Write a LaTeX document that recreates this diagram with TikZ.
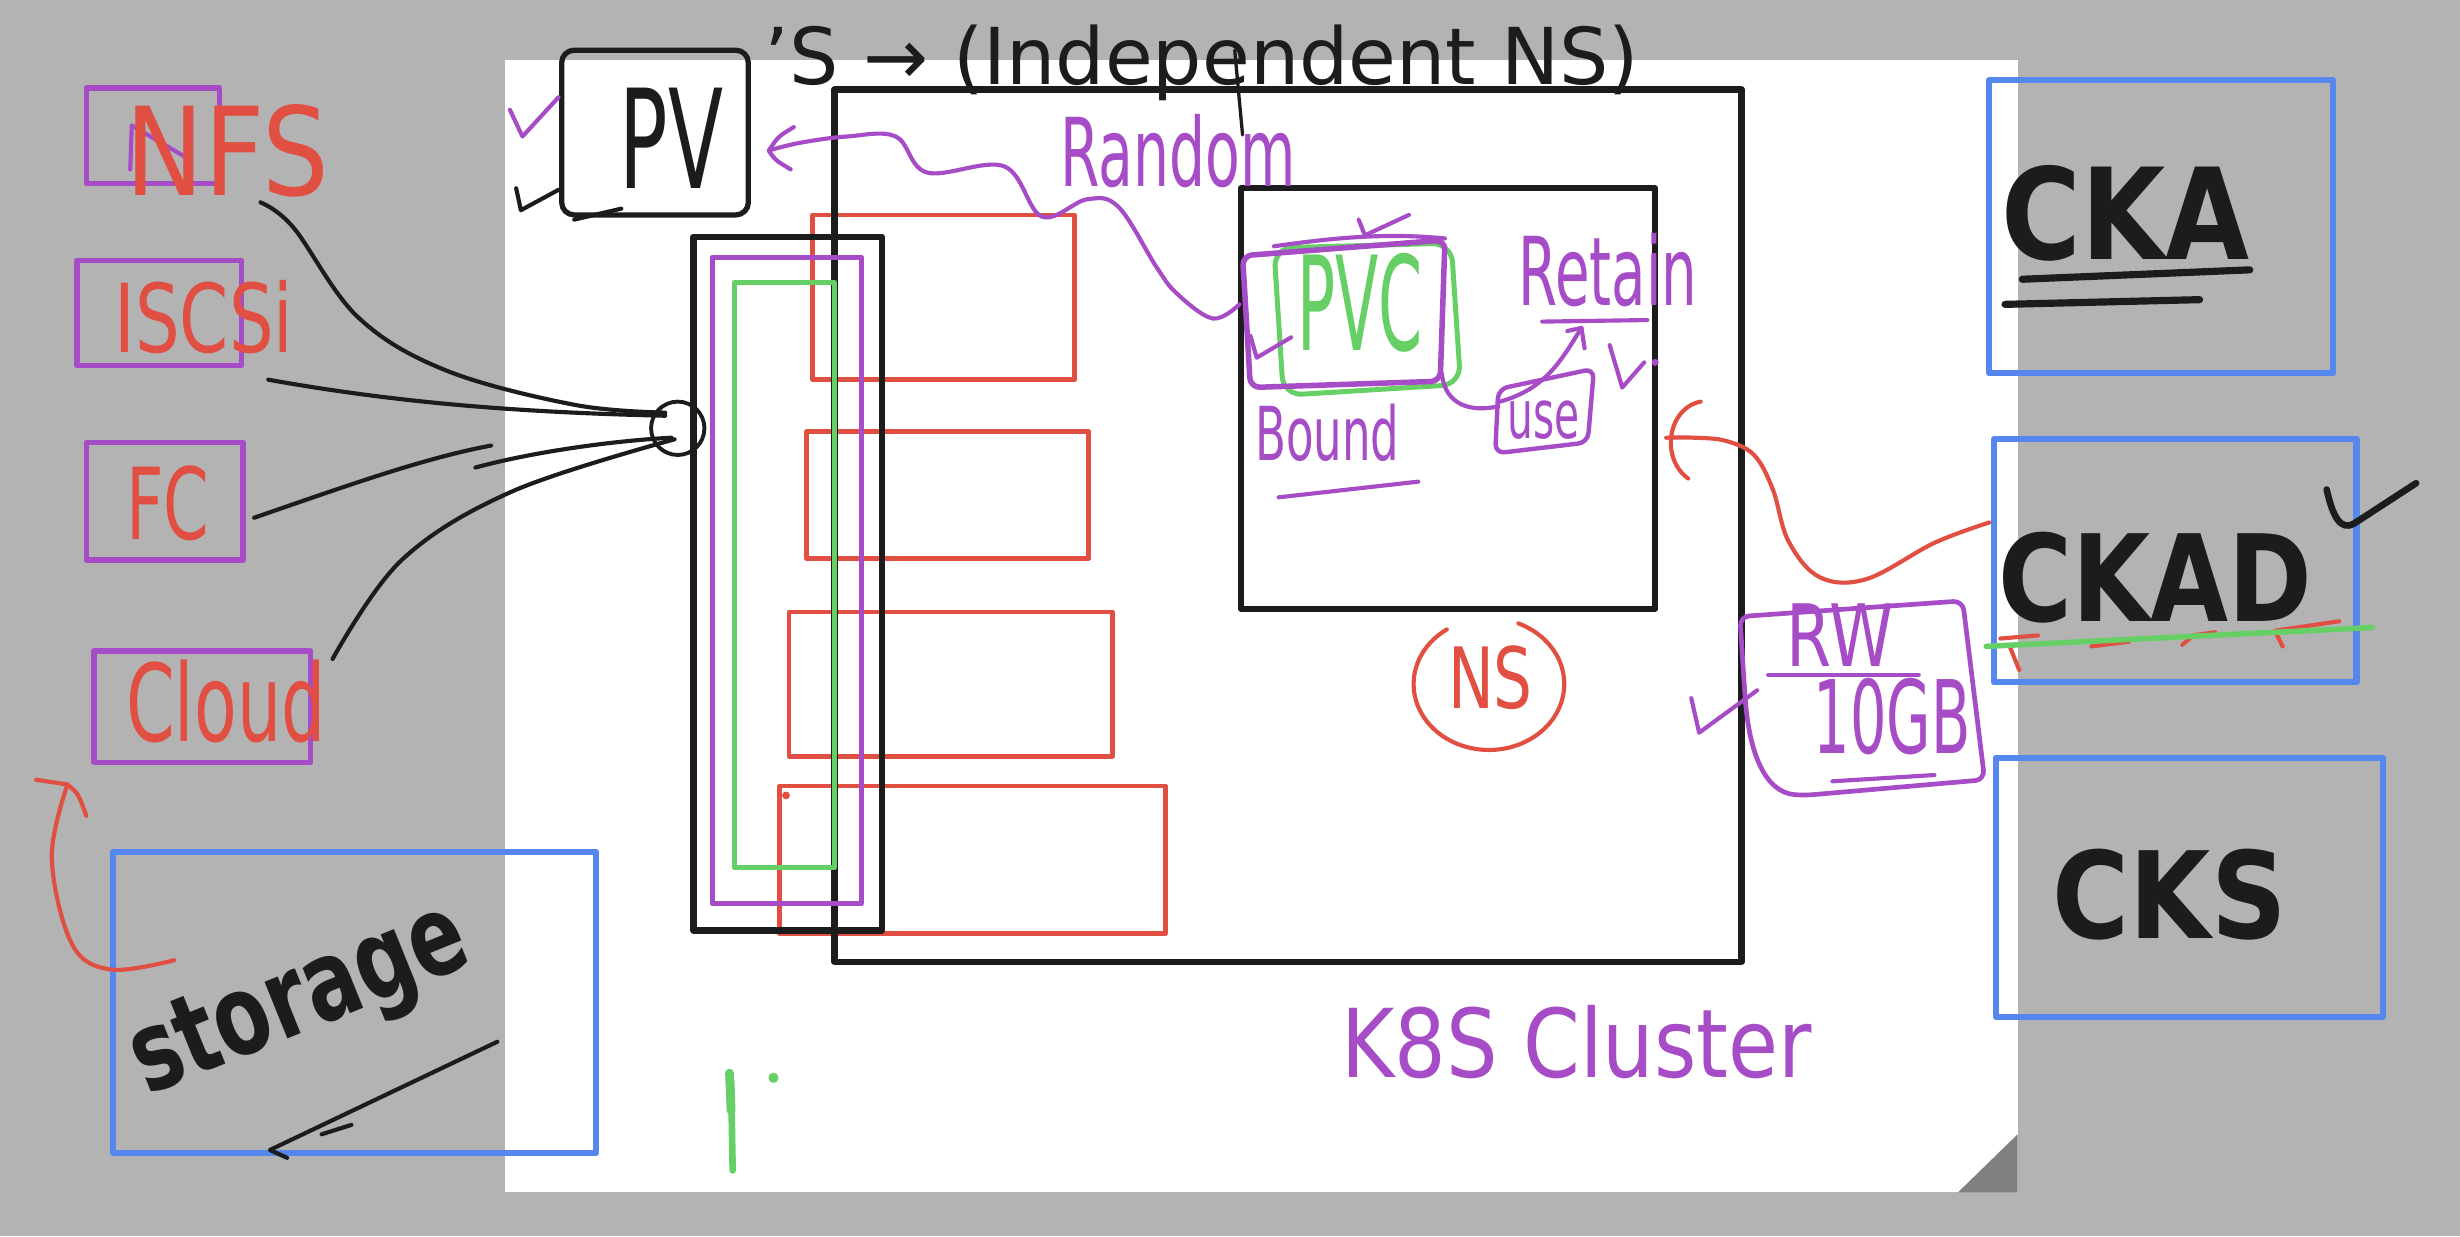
\documentclass[tikz,border=0pt]{standalone}
\usepackage{fontspec}
\setmainfont{DejaVu Sans}
\usepackage{graphicx}
\definecolor{bggray}{HTML}{B3B3B3}
\definecolor{foldgray}{HTML}{808080}
\definecolor{ink}{HTML}{1C1C1C}
\definecolor{pur}{HTML}{A64CC6}
\definecolor{rd}{HTML}{E04F41}
\definecolor{gr}{HTML}{66D066}
\definecolor{bl}{HTML}{5587EE}
\newlength\pxu
\setlength\pxu{0.2mm}
\newcommand\hwtext[3]{\resizebox{#1\pxu}{#2\pxu}{#3}}
\begin{document}
\begin{tikzpicture}[x=0.2mm, y=-0.2mm, line cap=round, line join=round,
  wh/.style 2 args={minimum width=#1\pxu, minimum height=#2\pxu, inner sep=0pt, outer sep=0pt},
  blkbox/.style={draw=ink, line width=2.3pt},
  redbox/.style={draw=rd, line width=1.7pt},
  purbox/.style={draw=pur, line width=2pt},
  grbox/.style={draw=gr, line width=1.8pt},
  blubox/.style={draw=bl, line width=2.2pt},
  inkpen/.style={draw=ink, line width=1.5pt},
  purpen/.style={draw=pur, line width=1.5pt},
  redpen/.style={draw=rd, line width=1.5pt},
  grpen/.style={draw=gr, line width=2pt},
  lbl/.style={inner sep=0pt, outer sep=0pt}]
\fill[bggray] (0,0) rectangle (1568,788);
\useasboundingbox (0,0) rectangle (1568,788);
\fill[white] (322,38) rectangle (1286,760);
\fill[foldgray] (1248,760) -- (1286,723) -- (1286,760) -- cycle;

% ---------- red pod boxes
\node[redbox, wh={167}{105}] (r1) at (601.5,189.5) {};
\node[redbox, wh={180}{81}] (r2) at (604,315.5) {};
\node[redbox, wh={206}{92}] (r3) at (606,436) {};
\node[redbox, wh={246}{94}] (r4) at (620,548) {};
\fill[rd] (501,507) circle[radius=0.5mm];

% ---------- cluster boxes
\node[blkbox, wh={578}{556}] (k8s) at (821,335) {};
\node[blkbox, wh={264}{268}] (nsbox) at (923,254) {};
\node[blkbox, wh={120}{442}] (stackb) at (502,372) {};
\node[purbox, wh={95}{412}] (stackp) at (501.5,370) {};
\node[grbox, wh={64}{373}] (stackg) at (500,366.5) {};

% ---------- PV box and top text
\node[blkbox, line width=1.9pt, rounded corners=1.6mm, wh={119}{105}] (pvbox) at (417.5,84.5) {};
\node[lbl, text=ink] (pvlbl) at (428,88) {\hwtext{66}{64}{PV}};
\node[lbl, text=ink] (toplbl) at (766,40) {\hwtext{557}{38}{’S → (Independent NS)}};
\draw[inkpen, line width=1.2pt] (787,32) -- (792,86);
\draw[purpen] (325,70) -- (333,87) -- (356,62);
\draw[inkpen] (329,120) -- (332,134) -- (356,121);
\draw[inkpen] (366,140) -- (396,133);

% ---------- PVC area
\draw[grbox, rounded corners=2.4mm] (812,158) -- (925,155) -- (931,245) -- (818,252) -- cycle;
\draw[purbox, rounded corners=1.2mm] (792,163) -- (921,153) -- (918,243) -- (797,247) -- cycle;
\coordinate (pvcL) at (790,194);
\coordinate (pvcBR) at (919,238);
\draw[purpen] (812,157) .. controls (860,150) and (890,149) .. (921,152);
\node[lbl, text=gr] (pvclbl) at (867,193) {\hwtext{80}{62}{PVC}};
\draw[purpen] (866,140) -- (870,150) -- (898,137);
\draw[purpen] (797,214) -- (801,228) -- (823,215);
\node[lbl, text=pur] (boundlbl) at (846,276) {\hwtext{92}{36}{Bound}};
\draw[purpen] (815,317) -- (904,307);

% use box
\draw[purbox, line width=1.6pt, rounded corners=1.2mm] (955,248) -- (1016,235) -- (1012,282) -- (953,289) -- cycle;
\coordinate (useL) at (955,259);
\node[lbl, text=pur] (uselbl) at (984,268) {\hwtext{46}{24}{use}};
\draw[purpen] (pvcBR) .. controls (921,258) and (937,263) .. (useL);
% retain fraction
\node[lbl, text=pur] (retlbl) at (1025,172) {\hwtext{114}{46}{Retain}};
\draw[purpen] (983,205) -- (1050,204);
\coordinate (fracbar) at (1008,209);
\draw[purpen] (956,256) .. controls (985,248) and (995,230) .. (fracbar);
\draw[purpen] (999,211) -- (fracbar) -- (1010,222);
\draw[purpen] (1026,220) -- (1034,247) -- (1048,231);
\fill[pur] (1055,231) circle[radius=0.45mm];

% Random wavy arrow PVC -> PV
\node[lbl, text=pur] (randlbl) at (751,96) {\hwtext{150}{46}{Random}};
\coordinate (pvR) at (490,96);
\draw[purpen] plot[smooth, tension=0.6] coordinates {(pvcL) (773,203) (750,187) (737,170) (713,132) (693,127) (664,138) (640,106) (591,110) (571,87) (540,87) (510,91) (pvR)};
\draw[purpen] (506,81) .. controls (496,87) .. (pvR) .. controls (494,102) .. (504,108);

% NS label
\node[lbl, text=rd] (nslbl) at (950,432) {\hwtext{54}{40}{NS}};
\draw[redpen] (922.2,401.2) arc[start angle=124, end angle=427, x radius=9.6mm, y radius=8.4mm];

% K8S Cluster
\node[lbl, text=pur] (k8slbl) at (1005,664) {\hwtext{300}{46}{K8S Cluster}};

% RW / 10GB box
\draw[purbox, line width=1.7pt, rounded corners=1.2mm] (1109,393) -- (1251,383) -- (1265,497) -- (1150,507) .. controls (1125,505) and (1115,480) .. (1112,440) -- cycle;
\node[lbl, text=pur] (rwlbl) at (1173,405) {\hwtext{68}{40}{RW}};
\draw[purpen] (1127,430) -- (1223,430);
\node[lbl, text=pur] (gblbl) at (1206,457) {\hwtext{100}{48}{10GB}};
\draw[purpen] (1168,498) -- (1233,494);
\draw[purpen] (1078,445) -- (1083,467) -- (1120,440);

% ---------- certification boxes
\node[blubox, wh={219}{187}] (cka) at (1377.5,144.5) {};
\node[blubox, wh={231}{155}] (ckad) at (1386.5,357.5) {};
\node[blubox, wh={247}{165}] (cks) at (1395.5,565.5) {};
\node[lbl, text=ink] (ckalbl) at (1355,136) {\hwtext{158}{60}{\bfseries CKA}};
\draw[ink, line width=2.6pt] (1289,178) -- (1434,172);
\draw[ink, line width=2.6pt] (1278,194) -- (1402,191);
\node[lbl, text=ink] (ckadlbl) at (1374,368) {\hwtext{200}{57}{\bfseries CKAD}};
\draw[ink, line width=2.4pt] (1483,312) .. controls (1487,330) and (1492,338) .. (1500,334) -- (1540,308);
\draw[redpen] (1275,407) -- (1299,405);
\draw[redpen] (1281,412) -- (1287,427);
\draw[redpen] (1333,412) -- (1357,409);
\draw[redpen] (1391,411) -- (1398,405) -- (1412,403);
\draw[redpen] (1455,412) -- (1450,402) -- (1491,396);
\draw[grpen] (1266,412) -- (1512,400);
\node[lbl, text=ink] (ckslbl) at (1383,570) {\hwtext{149}{57}{\bfseries CKS}};

% red arrow CKAD -> NS
\coordinate (ckadL) at (1268,333);
\coordinate (nsR) at (1062,279);
\draw[redpen] plot[smooth, tension=0.6] coordinates {(ckadL) (1233,346) (1190,369) (1160,368) (1140,345) (1130,312) (1118,290) (1100,281) (1080,279) (nsR)};
\draw[redpen] (1084,256) .. controls (1063,260) and (1058,292) .. (1076,305);

% ---------- storage types
\node[purbox, wh={85}{61}] (nfs) at (97.5,86.5) {};
\node[purbox, wh={105}{67}] (iscsi) at (101.5,199.5) {};
\node[purbox, wh={100}{75}] (fc) at (105,319.5) {};
\node[purbox, wh={138}{71}] (cloud) at (129,450.5) {};
\draw[purpen] (83,108) -- (84,80) -- (118,100);
\node[lbl, text=rd] (nfslbl) at (145,96) {\hwtext{130}{58}{NFS}};
\node[lbl, text=rd] (iscsilbl) at (130,202) {\hwtext{114}{46}{ISCSi}};
\node[lbl, text=rd] (fclbl) at (107,321) {\hwtext{53}{47}{FC}};
\node[lbl, text=rd] (cloudlbl) at (144,447) {\hwtext{127}{52}{Cloud}};

% hub and connectors
\node[draw=ink, line width=1.4pt, circle, minimum size=34\pxu, inner sep=0pt] (hub) at (432,273) {};
\coordinate (nfsT) at (166,129);
\coordinate (iscsiT) at (171,242);
\coordinate (fcT) at (162,330);
\coordinate (fcM) at (313,284);
\coordinate (fcM2) at (303,298);
\coordinate (cloudT) at (212,420);
\draw[inkpen] plot[smooth, tension=0.6] coordinates {(nfsT) (187,145) (228,202) (284,236) (366,258) (424,263)};
\draw[inkpen] (iscsiT) .. controls (260,258) and (340,263) .. (424,265);
\draw[inkpen] (fcT) .. controls (220,310) and (270,292) .. (fcM);
\draw[inkpen] (fcM2) .. controls (340,288) and (390,281) .. (428,279);
\draw[inkpen] plot[smooth, tension=0.6] coordinates {(cloudT) (256,357) (327,313) (430,280)};

% storage box
\node[blubox, wh={308}{192}] (storage) at (226,639) {};
\node[lbl, text=ink, rotate=22] (storlbl) at (192,640) {\hwtext{225}{50}{\bfseries storage}};
\draw[inkpen] (317,664) -- (172,733) -- (183,738);
\draw[inkpen] (205,723) -- (224,717);
\coordinate (storL) at (111,612);
\coordinate (cloudB) at (43,500);
\draw[redpen] plot[smooth, tension=0.6] coordinates {(storL) (71,618) (46,602) (33,547) (cloudB)};
\draw[redpen] (23,497) -- (cloudB) .. controls (50,506) .. (55,520);

% green marks
\draw[gr, line width=3.2pt] (465,684) -- (466,708);
\draw[gr, line width=2.4pt] (466,690) -- (467,746);
\fill[gr] (493,687) circle[radius=0.65mm];
\end{tikzpicture}
\end{document}
